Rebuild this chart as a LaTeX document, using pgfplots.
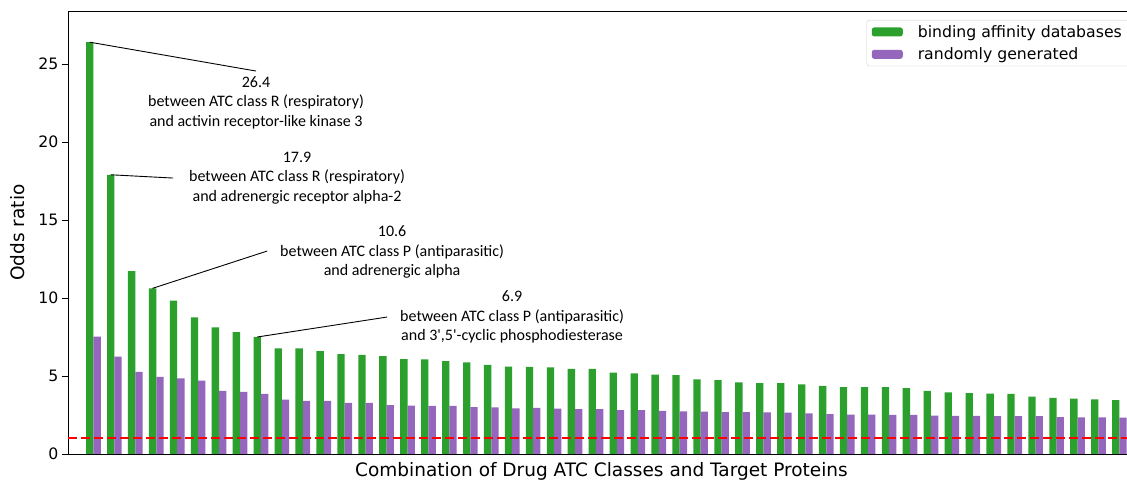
\documentclass[border=0pt]{standalone}
\usepackage{pgfplots}
\pgfplotsset{compat=1.18}
\usepackage{pgfplotstable}
\usepackage{fontspec}
\setmainfont{DejaVu Sans}
\newfontfamily\calibri{Carlito}
\usetikzlibrary{calc}
\definecolor{tabgreen}{HTML}{2CA02C}
\definecolor{tabpurple}{HTML}{9467BD}

\pgfplotstableread{
i g r
0 26.40 7.52
1 17.90 6.24
2 11.73 5.26
3 10.62 4.94
4 9.83 4.85
5 8.76 4.70
6 8.12 4.04
7 7.82 3.99
8 7.50 3.85
9 6.77 3.48
10 6.77 3.40
11 6.60 3.40
12 6.41 3.28
13 6.35 3.27
14 6.28 3.14
15 6.09 3.10
16 6.07 3.08
17 5.96 3.08
18 5.88 3.01
19 5.71 2.99
20 5.60 2.93
21 5.58 2.95
22 5.55 2.91
23 5.45 2.88
24 5.45 2.88
25 5.21 2.82
26 5.17 2.82
27 5.09 2.76
28 5.06 2.74
29 4.79 2.72
30 4.74 2.69
31 4.59 2.69
32 4.55 2.67
33 4.55 2.65
34 4.46 2.61
35 4.36 2.56
36 4.29 2.52
37 4.29 2.52
38 4.29 2.50
39 4.23 2.50
40 4.05 2.46
41 3.95 2.44
42 3.91 2.44
43 3.87 2.42
44 3.85 2.42
45 3.67 2.42
46 3.59 2.37
47 3.55 2.35
48 3.50 2.35
49 3.46 2.33
}\data

\begin{document}
\begin{tikzpicture}
\begin{axis}[
  scale only axis,
  width=1067pt, height=443pt,
  xmin=-1.04, xmax=49.92,
  ymin=0, ymax=28.4,
  xtick=\empty,
  ytick={0,5,10,15,20,25},
  tick align=outside,
  major tick length=6pt,
  tick style={black, line width=0.8pt},
  axis line style={line width=0.9pt},
  /pgf/number format/assume math mode=true,
  ticklabel style={font=\fontsize{15.7}{19}\selectfont},
  ylabel={Odds ratio},
  ylabel style={at={(axis description cs:0,0.5)}, anchor=center, yshift=50.5pt, font=\fontsize{18.5}{22}\selectfont},
  xlabel={Combination of Drug ATC Classes and Target Proteins},
  xlabel style={at={(axis description cs:0.5,0)}, anchor=base, yshift=-22.7pt, font=\fontsize{18.5}{22}\selectfont},
  legend style={at={(rel axis cs:1,1)}, anchor=north east, xshift=-6pt, yshift=-9pt,
    draw=black!20, rounded corners=2.5pt, font=\fontsize{15.7}{19}\selectfont,
    inner xsep=5pt, inner ysep=3pt, row sep=5pt},
  legend cell align=left,
  legend image code/.code={\fill[#1] (0pt,-4.5pt) rectangle (31pt,4.5pt); \path (44pt,0pt);},
]
\addplot[ybar, bar width=0.35, bar shift=0, fill=tabgreen, draw=none] table[x=i, y=g] {\data};
\addlegendentry{binding affinity databases}
\addplot[ybar, bar width=0.35, bar shift=0.35, fill=tabpurple, draw=none] table[x=i, y=r] {\data};
\addlegendentry{randomly generated}
\addplot[red, line width=2pt, dash pattern=on 9pt off 4pt, forget plot] coordinates {(-1.04,1) (49.92,1)};

\draw[line width=0.9pt] (axis cs:0,26.4) -- (axis cs:7.94,24.55);
\node[align=center, font=\calibri\fontsize{16}{19.5}\selectfont] at (axis cs:7.94,22.53)
  {26.4\\between ATC class R (respiratory)\\and activin receptor-like kinase 3};
\draw[line width=0.9pt] (axis cs:1,17.9) -- (axis cs:3.98,17.69);
\node[align=center, font=\calibri\fontsize{16}{19.5}\selectfont] at (axis cs:9.90,17.69)
  {17.9\\between ATC class R (respiratory)\\and adrenergic receptor alpha-2};
\draw[line width=0.9pt] (axis cs:3,10.62) -- (axis cs:8.47,13.01);
\node[align=center, font=\calibri\fontsize{16}{19.5}\selectfont] at (axis cs:14.44,12.95)
  {10.6\\between ATC class P (antiparasitic)\\and adrenergic alpha};
\draw[line width=0.9pt] (axis cs:8,7.5) -- (axis cs:14.2,8.78);
\node[align=center, font=\calibri\fontsize{16}{19.5}\selectfont] at (axis cs:20.17,8.78)
  {6.9\\between ATC class P (antiparasitic)\\and 3',5'-cyclic phosphodiesterase};
\end{axis}
\pgfresetboundingbox
\path ($(current axis.south west)+(-68pt,-27pt)$) rectangle ($(current axis.south west)+(1059pt,454pt)$);
\end{tikzpicture}
\end{document}
